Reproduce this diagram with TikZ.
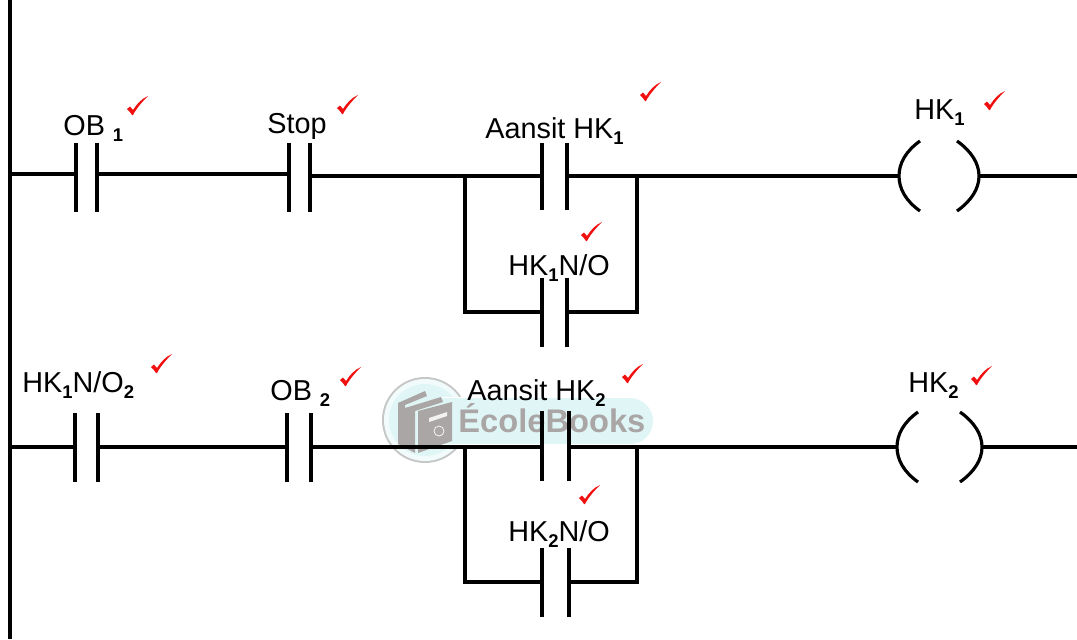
\documentclass[tikz,border=0pt]{standalone}
\usepackage{fontspec}
\setmainfont{Liberation Sans}
\usepackage{tikz}
\usetikzlibrary{calc,shadings}
\definecolor{tick}{HTML}{F01010}
\definecolor{pill}{HTML}{E0F6F6}
\definecolor{book}{HTML}{ABA6A6}
\tikzset{
  wire/.style={line width=1.8pt},
  lbl/.style={anchor=base west,inner sep=0pt,font=\fontsize{16.4}{18}\selectfont},
  tickmark/.pic={
    \fill[tick] (-10,3) -- (-7,0.5) -- (-4,4) .. controls (0,-2) and (4,-7) .. (11,-10)
    .. controls (5,-4) and (-1,3) .. (-4,9) -- (-5,9) .. controls (-6,7) and (-8,5) .. (-10,3) -- cycle;
  }
}
\newcommand{\sub}[1]{\raisebox{-0.42ex}{\fontsize{10.5}{10}\selectfont\bfseries #1}}
\begin{document}
\begin{tikzpicture}[x=0.02cm,y=-0.02cm]
    \useasboundingbox (0,0) rectangle (1077,639);

    % watermark
    \fill[gray!45] (425,420) circle (43);
    \fill[white!55!pill] (425,420) circle (41);
    \fill[pill] (425,420) circle (36);
    \fill[white] (440,397) rectangle (630,445);
    \fill[white] (630,421) circle (24);
    \fill[pill] (440,398) rectangle (630,444);
    \fill[pill] (630,421) circle (23);
    \fill[book] (398,403) -- (425,391) -- (427,396) -- (405,405) -- (405,408) -- (441,397)
    -- (443,402) -- (415,411) -- (415,453) -- (398,444) -- cycle;
    \fill[book] (418,411) -- (452,402) -- (452,441) -- (418,453) -- cycle;
    \fill[white!85!book] (429,418) -- (447,412) -- (447,416) -- (429,422) -- cycle;
    \draw[white] (439,431) circle (5);
    \node[anchor=base west,inner sep=0pt,text=book,font=\fontsize{18.6}{20}\selectfont\bfseries]
    (brand) at (458,432) {ÉcoleBooks};

    % left rail
    \path
    (10,0) coordinate (railtop)
    (10,174) coordinate (railA)
    (10,447) coordinate (railB)
    (10,639) coordinate (railbot)
    ;
    \draw[wire] (railtop) -- (railbot);

    % contacts: name/left/right/top/bottom/wire
    \foreach \name/\xl/\xr/\ytop/\ybot/\ywire in {
      obA/76/97/143/212/174,
      stop/289/310/143/212/174,
      startA/542/567/143/210/176,
      holdA/542/567/278/347/312,
      holdlatch/75/98/413/482/447,
      obB/287/311/413/482/447,
      startB/542/569/411/481/447,
      holdB/542/569/548/617/582%
    }{
      \coordinate (\name L) at (\xl,\ywire);
      \coordinate (\name R) at (\xr,\ywire);
      \draw[wire] (\xl,\ytop) -- (\xl,\ybot);
      \draw[wire] (\xr,\ytop) -- (\xr,\ybot);
    }

    % coils
    \path
    (899,176) coordinate (coilAL)
    (979,176) coordinate (coilAR)
    (1077,176) coordinate (endA)
    (897,447) coordinate (coilBL)
    (982,447) coordinate (coilBR)
    (1077,447) coordinate (endB)
    ;
    \draw[wire] (920,141) .. controls (906,151) and (899,163) .. (coilAL)
    .. controls (899,189) and (906,201) .. (920,211);
    \draw[wire] (957,141) .. controls (971,151) and (979,163) .. (coilAR)
    .. controls (979,189) and (971,201) .. (957,211);
    \draw[wire] (918,412) .. controls (904,422) and (897,434) .. (coilBL)
    .. controls (897,460) and (904,472) .. (918,482);
    \draw[wire] (960,412) .. controls (974,422) and (982,434) .. (coilBR)
    .. controls (982,460) and (974,472) .. (960,482);

    % branch corners
    \path
    (310,176) coordinate (stopout)
    (465,176) coordinate (splitA)
    (637,176) coordinate (joinA)
    (465,447) coordinate (splitB)
    (637,447) coordinate (joinB)
    ;

    % first rung
    \draw[wire] (railA) -- (obAL);
    \draw[wire] (obAR) -- (stopL);
    \draw[wire] (stopout) -- (splitA) -- (startAL);
    \draw[wire] (startAR) -- (joinA) -- (coilAL);
    \draw[wire] (coilAR) -- (endA);
    \draw[wire] (splitA) |- (holdAL);
    \draw[wire] (holdAR) -| (joinA);

    % second rung
    \draw[wire] (railB) -- (holdlatchL);
    \draw[wire] (holdlatchR) -- (obBL);
    \draw[wire] (obBR) -- (splitB) -- (startBL);
    \draw[wire] (startBR) -- (joinB) -- (coilBL);
    \draw[wire] (coilBR) -- (endB);
    \draw[wire] (splitB) |- (holdBL);
    \draw[wire] (holdBR) -| (joinB);

    % labels
    \node[lbl] (obAlbl) at (63,135) {OB \sub{1}};
    \node[lbl] (stoplbl) at (267,133) {Stop};
    \node[lbl] (startAlbl) at (485,138) {Aansit HK\sub{1}};
    \node[lbl] (holdAlbl) at (508,275) {HK\sub{1}N/O};
    \node[lbl] (coilAlbl) at (914,119) {HK\sub{1}};
    \node[lbl] (latchlbl) at (22,392) {HK\sub{1}N/O\sub{2}};
    \node[lbl] (obBlbl) at (270,400) {OB \sub{2}};
    \node[lbl] (startBlbl) at (467,400) {Aansit HK\sub{2}};
    \node[lbl] (holdBlbl) at (508,541) {HK\sub{2}N/O};
    \node[lbl] (coilBlbl) at (908,392) {HK\sub{2}};

    % ticks
    \foreach \xt/\yt in {137/106,347/105,650/92,591/232,994/101,161/364,350/377,632/374,589/495,981/376}{
      \pic at (\xt,\yt) {tickmark};
    }
\end{tikzpicture}
\end{document}
